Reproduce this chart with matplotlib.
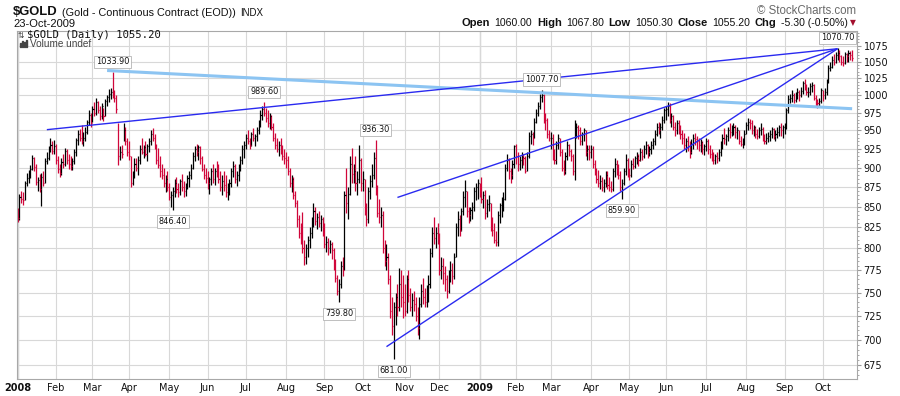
import numpy as np
import pandas as pd
import matplotlib
matplotlib.use('Agg')
import matplotlib.pyplot as plt
from matplotlib.patches import Rectangle
from matplotlib.ticker import NullFormatter

# exchange holidays (no bars on these days)
holidays = ['2008-01-01', '2008-01-21', '2008-02-18', '2008-03-21', '2008-05-26',
            '2008-07-04', '2008-09-01', '2008-11-27', '2008-12-25',
            '2009-01-01', '2009-01-19', '2009-02-16', '2009-04-10', '2009-05-25',
            '2009-07-03', '2009-09-07']

prev_close = 838.0  # last close of 2007, only used for the colour of the first bar

high_2008 = [
    848, 866, 870, 868, 882, 893, 897, 903, 916, 914, 905, 888, 891, 893, 895, 913, 920, 929, 939, 935, 937,
    932, 915, 905, 912, 918, 926, 925, 918, 915, 912, 925, 940, 950, 952, 957, 948, 955, 965, 978, 975,
    985, 990, 996, 992, 985, 988, 982, 995, 1000, 1009, 1010, 1033.9, 1008, 1000, 960, 929, 930, 960, 955, 940,
    935, 915, 895, 913, 912, 915, 930, 939, 930, 935, 932, 940, 950, 953, 945, 932, 926, 915, 905, 900, 890, 895,
    880, 870, 875, 885, 888, 880, 885, 891, 882, 880, 890, 895, 905, 920, 928, 932, 930, 928, 915, 905, 900,
    895, 888, 900, 905, 900, 909, 905, 895, 890, 896, 890, 880, 885, 900, 909, 905, 895, 905, 915, 930, 935,
    945, 950, 940, 948, 953, 945, 955, 965, 978, 985, 989.6, 982, 978, 975, 972, 960, 946, 940, 935, 940, 930, 925,
    920, 915, 900, 890, 888, 870, 858, 840, 830, 844, 810, 805, 815, 825, 838, 855, 850, 842, 845, 840, 838,
    830, 815, 812, 810, 808, 800, 788, 770, 765, 785, 790, 870, 900, 875, 915, 926, 905, 915, 895, 930, 912,
    895, 885, 855, 875, 890, 905, 920, 936.3, 877, 860, 850, 845, 810, 805, 795, 770, 745, 740, 750, 760, 777, 775, 770,
    760, 770, 775, 755, 750, 752, 745, 735, 745, 760, 766, 755, 758, 770, 800, 825, 838, 825, 830,
    818, 790, 789, 780, 770, 775, 785, 783, 795, 830, 845, 840, 848, 870, 884, 870, 850, 850, 856, 875, 880, 885,
]
low_2008 = [
    831, 834, 855, 852, 858, 876, 880, 886, 897, 896, 878, 870, 868, 851, 876, 880, 905, 910, 920, 918, 918,
    905, 893, 888, 890, 900, 902, 905, 898, 897, 897, 905, 915, 930, 935, 932, 929, 935, 945, 958, 955,
    962, 970, 972, 975, 965, 966, 963, 970, 985, 990, 995, 996, 990, 975, 903, 910, 912, 936, 930, 915,
    910, 875, 878, 886, 895, 890, 905, 918, 913, 915, 909, 920, 930, 935, 925, 905, 900, 888, 885, 875, 868, 870,
    858, 850, 846.4, 862, 867, 862, 865, 870, 862, 864, 872, 875, 885, 898, 908, 915, 910, 905, 895, 885, 880,
    872, 866, 878, 880, 878, 888, 880, 870, 865, 870, 862, 859, 865, 875, 888, 880, 876, 882, 895, 905, 912,
    925, 932, 925, 928, 935, 928, 935, 945, 955, 965, 970, 962, 955, 952, 950, 935, 925, 920, 915, 918, 910, 905,
    900, 890, 875, 868, 860, 850, 825, 812, 805, 795, 781, 782, 790, 800, 812, 825, 828, 823, 825, 820, 815,
    800, 796, 792, 795, 788, 775, 762, 748, 739.8, 755, 768, 775, 842, 835, 865, 880, 880, 870, 865, 880, 870,
    870, 840, 826, 830, 860, 875, 885, 865, 838, 830, 825, 795, 780, 775, 760, 723, 705, 681, 716, 725, 730, 735, 723,
    725, 728, 740, 730, 725, 730, 720, 705, 701, 735, 738, 735, 734, 740, 755, 790, 805, 800, 805,
    770, 765, 760, 752, 744, 750, 762, 760, 765, 790, 815, 815, 820, 840, 850, 838, 830, 832, 835, 845, 858, 860,
]
close_2008 = [
    836, 862, 860, 858, 880, 887, 893, 898, 912, 901, 881, 884, 872, 888, 880, 908, 912, 925, 930, 922, 928,
    910, 898, 893, 907, 904, 922, 910, 905, 902, 908, 920, 937, 945, 940, 935, 940, 948, 962, 972, 960,
    980, 975, 990, 978, 970, 985, 970, 992, 997, 1002, 1005, 1002, 996, 980, 915, 920, 918, 950, 935, 920,
    915, 880, 890, 905, 900, 910, 925, 920, 927, 918, 928, 935, 945, 940, 928, 910, 903, 895, 890, 880, 885, 875,
    862, 865, 870, 880, 872, 868, 882, 875, 870, 878, 886, 890, 900, 915, 925, 920, 927, 912, 898, 890, 887,
    880, 885, 895, 885, 895, 892, 885, 875, 882, 878, 868, 870, 880, 895, 902, 885, 890, 900, 910, 925, 930,
    940, 935, 930, 945, 940, 942, 950, 960, 972, 980, 975, 968, 960, 970, 955, 940, 930, 925, 930, 922, 915, 912,
    910, 895, 880, 885, 865, 855, 835, 818, 812, 800, 790, 800, 810, 818, 832, 845, 832, 838, 830, 835, 825,
    805, 808, 800, 805, 798, 782, 766, 752, 760, 780, 775, 865, 855, 866, 905, 892, 895, 880, 885, 910, 880,
    885, 845, 835, 870, 882, 890, 912, 870, 842, 838, 840, 800, 785, 790, 765, 730, 715, 735, 745, 735, 760, 745, 740,
    730, 765, 748, 735, 742, 738, 725, 712, 738, 752, 745, 740, 748, 760, 795, 818, 812, 818, 815,
    775, 780, 772, 765, 752, 770, 775, 768, 790, 825, 835, 822, 845, 862, 870, 845, 840, 846, 850, 870, 875, 880,
]

high_2009 = [
    880, 888, 870, 871, 860, 865, 855, 838, 830, 820, 845, 855, 862, 868, 905, 918, 912, 900, 910, 930,
    932, 920, 915, 920, 918, 915, 920, 948, 950, 948, 968, 980, 990, 1002, 1007.7, 1002, 975, 968, 950,
    948, 945, 925, 935, 945, 940, 925, 910, 920, 935, 932, 925, 918, 964, 960, 958, 955, 948, 953, 950, 930, 930,
    930, 928, 910, 900, 897, 890, 888, 885, 896, 895, 888, 882, 900, 913, 910, 905, 895, 885, 900, 918, 912,
    900, 910, 912, 915, 920, 918, 926, 925, 930, 936, 932, 928, 935, 940, 950, 960, 962, 960, 970, 982,
    985, 990, 988, 975, 972, 962, 965, 964, 958, 950, 946, 940, 942, 935, 938, 945, 947, 942, 939, 938, 936, 932,
    940, 938, 930, 925, 920, 918, 920, 925, 935, 945, 953, 945, 955, 960, 958, 960, 958, 955, 950, 942, 940, 950,
    962, 967, 966, 964, 958, 956, 952, 955, 960, 955, 945, 946, 948, 950, 955, 954, 950, 955, 958, 960, 958,
    960, 982, 1000, 1002, 1007, 1003, 1005, 1010, 1008, 1012, 1021, 1024, 1016, 1012, 1018, 1020, 1016, 1000, 995, 996, 1010,
    1008, 1010, 1024, 1045, 1050, 1058, 1062, 1065, 1070.7, 1068, 1060, 1058, 1065, 1064, 1068, 1067, 1067.8,
]
low_2009 = [
    862, 855, 848, 835, 838, 845, 820, 815, 806, 803, 803, 830, 838, 845, 858, 895, 885, 880, 885, 900,
    905, 895, 897, 900, 903, 893, 895, 912, 932, 930, 940, 960, 970, 980, 990, 960, 950, 940, 935,
    925, 910, 905, 905, 925, 915, 895, 890, 892, 910, 915, 908, 890, 884, 940, 938, 930, 930, 935, 915, 910, 910,
    912, 900, 890, 880, 875, 872, 870, 869, 875, 872, 870, 868, 870, 888, 890, 885, 870, 859.9, 878, 890, 888,
    884, 888, 898, 900, 905, 902, 908, 910, 912, 918, 913, 915, 918, 925, 930, 942, 945, 940, 950, 960,
    965, 970, 960, 955, 950, 942, 945, 945, 938, 932, 925, 920, 922, 913, 918, 925, 930, 925, 922, 920, 918, 916,
    922, 918, 912, 908, 905, 905, 906, 908, 915, 925, 932, 930, 936, 940, 942, 944, 940, 938, 932, 928, 926, 930,
    945, 950, 952, 945, 942, 940, 938, 940, 944, 936, 932, 932, 934, 936, 940, 938, 935, 940, 942, 942, 940,
    945, 952, 975, 988, 990, 988, 990, 995, 992, 997, 1002, 1008, 1000, 998, 1000, 1005, 993, 985, 982, 985, 988,
    992, 995, 1000, 1018, 1036, 1040, 1045, 1048, 1052, 1050, 1045, 1044, 1046, 1050, 1050, 1052, 1050.3,
]
close_2009 = [
    878, 860, 865, 842, 853, 855, 825, 822, 810, 808, 840, 852, 856, 860, 900, 910, 895, 890, 905, 928,
    915, 905, 910, 914, 912, 896, 915, 942, 945, 940, 962, 975, 985, 998, 1000, 968, 965, 945, 940,
    940, 915, 910, 930, 940, 920, 900, 895, 915, 930, 922, 915, 895, 945, 955, 950, 935, 945, 950, 920, 925, 920,
    925, 905, 895, 885, 880, 882, 875, 880, 890, 878, 875, 872, 895, 905, 898, 890, 875, 880, 895, 910, 892,
    890, 905, 902, 912, 915, 910, 920, 915, 925, 930, 920, 925, 930, 935, 945, 955, 950, 955, 965, 978,
    980, 985, 965, 970, 955, 950, 960, 952, 945, 940, 930, 935, 928, 920, 932, 940, 938, 935, 930, 934, 925, 928,
    935, 925, 918, 912, 910, 915, 912, 920, 930, 940, 938, 942, 950, 948, 952, 955, 948, 950, 935, 932, 936, 945,
    958, 962, 960, 950, 955, 945, 942, 950, 952, 940, 936, 940, 942, 945, 952, 942, 945, 948, 955, 950, 955,
    955, 978, 995, 996, 1000, 993, 1000, 1005, 1000, 1006, 1018, 1014, 1004, 1004, 1014, 1015, 996, 990, 988, 992, 1007,
    1000, 1004, 1020, 1040, 1042, 1052, 1050, 1060, 1064, 1058, 1050, 1048, 1062, 1058, 1064, 1060.5, 1055.2,
]

# hand-drawn trend lines: (start date, start price, end date, end price)
trend_lines = [
    ('2008-03-13', 1036.6, '2009-10-23', 980.5),
    ('2008-01-25', 951.0, '2009-10-13', 1070.0),
    ('2008-10-28', 861.6, '2009-10-13', 1070.0),
    ('2008-10-20', 693.3, '2009-10-13', 1070.0),
]
trend_colors = ['#8cc4f2', '#2a2af0', '#2a2af0', '#2a2af0']
trend_widths = [2.2, 1.0, 1.0, 1.0]

peak_labels = [1033.9, 989.6, 936.3, 1007.7, 1070.7]
trough_labels = [846.4, 739.8, 681.0, 859.9]

y_ticks = list(range(675, 1076, 25))

dates = pd.bdate_range('2008-01-02', '2009-10-23', freq='C', holidays=holidays)
highs = np.array(high_2008 + high_2009, dtype=float)
lows = np.array(low_2008 + low_2009, dtype=float)
closes = np.array(close_2008 + close_2009, dtype=float)
n = min(len(dates), len(closes))
dates, highs, lows, closes = dates[:n], highs[:n], lows[:n], closes[:n]
x = np.arange(n)

prev = np.r_[prev_close, closes[:-1]]
colors = np.where(closes < prev, '#d0063a', '#000000')

W, H = 900, 396
fig = plt.figure(figsize=(W / 100, H / 100), dpi=100)
fig.patch.set_facecolor('white')
ax = fig.add_axes([16.7 / W, 17 / H, 840 / W, 348 / H])
ax.set_yscale('log')
ax.set_ylim(661.4, 1098)
ax.set_xlim(-0.5, 459.5)

# month grid / labels
starts = np.flatnonzero(np.r_[True, dates.month[1:] != dates.month[:-1]])
labels = [str(dates[i].year) if dates[i].month == 1 else dates[i].strftime('%b') for i in starts]
ax.set_xticks(starts, labels)
for lab, i in zip(ax.get_xticklabels(), starts):
    if dates[i].month == 1:
        lab.set_fontweight('bold')
ax.set_yticks(y_ticks, [str(v) for v in y_ticks])
ax.set_yticks(np.arange(665, 1096, 5), minor=True)
ax.yaxis.set_minor_formatter(NullFormatter())
ax.yaxis.tick_right()
ax.grid(True, which='major', color='#d8d8d8', lw=0.8)
ax.tick_params(axis='x', length=0, pad=3, labelsize=7, colors='#111111')
ax.tick_params(axis='y', which='major', length=3, pad=2, labelsize=7, color='#999999',
               labelcolor='#111111')
ax.tick_params(axis='y', which='minor', length=1.5, color='#999999')
for i in starts:
    if dates[i].month == 1:
        ax.axvline(i, color='#b8b8b8', lw=0.9, zorder=0.5)
for s in ax.spines.values():
    s.set_color('#a8a8a8')
    s.set_linewidth(0.8)
ax.set_axisbelow(True)

# HLC bars
ax.vlines(x, lows, highs, colors=colors, lw=0.9, zorder=2)
ax.hlines(closes, x, x + 0.6, colors=colors, lw=0.9, zorder=2)

# trend lines
pos = {d.strftime('%Y-%m-%d'): i for i, d in enumerate(dates)}
for (d0, p0, d1, p1), c, lw in zip(trend_lines, trend_colors, trend_widths):
    ax.plot([pos[d0], pos[d1]], [p0, p1], color=c, lw=lw, zorder=3, solid_capstyle='butt')

box = dict(boxstyle='square,pad=0.2', fc='white', ec='#b4b4b4', lw=0.6)
for v in peak_labels:
    i = np.flatnonzero(np.isclose(highs, v))[0]
    ax.annotate(f'{v:.2f}', (i, v), xytext=(0, 7.5), textcoords='offset points',
                ha='center', va='center', fontsize=5.9, color='#111111', bbox=box, zorder=5)
for v in trough_labels:
    i = np.flatnonzero(np.isclose(lows, v))[0]
    ax.annotate(f'{v:.2f}', (i, v), xytext=(0, -8.5), textcoords='offset points',
                ha='center', va='center', fontsize=5.9, color='#111111', bbox=box, zorder=5)

# text inside the plot
ax.text(10 / 840, 1 - 4.5 / 348, '$GOLD (Daily) 1055.20', transform=ax.transAxes,
        family='DejaVu Sans Mono', fontsize=7.6, va='center', ha='left', color='#111111')
ax.text(1.0 / 840, 1 - 4.5 / 348, '⇅', transform=ax.transAxes, fontsize=5.5, va='center',
        ha='left', color='#333333')
ax.text(13.3 / 840, 1 - 13.3 / 348, 'Volume undef', transform=ax.transAxes,
        family='Liberation Sans', fontsize=7.2, va='center', ha='left', color='#444444')
for k, h in enumerate([4, 6, 5, 7]):
    fig.add_artist(Rectangle(((20 + 2 * k) / W, 1 - 47 / H), 1.3 / W, h / H,
                             transform=fig.transFigure, color='#444444'))

# header
fig.text(12.5 / W, 1 - 12 / H, '$GOLD', family='Liberation Sans', fontweight='bold',
         fontsize=9.4, va='center', ha='left', color='#111111')
fig.text(62.5 / W, 1 - 12.5 / H, '(Gold - Continuous Contract (EOD))', family='Liberation Sans',
         fontsize=7.8, va='center', ha='left', color='#111111')
fig.text(240 / W, 1 - 12.5 / H, 'INDX', family='Liberation Sans', fontsize=7, va='center',
         ha='left', color='#111111')
fig.text(13.3 / W, 1 - 24.3 / H, '23-Oct-2009', family='Liberation Sans', fontsize=8,
         va='center', ha='left', color='#111111')
fig.text(856 / W, 1 - 11 / H, '© StockCharts.com', family='Liberation Sans', fontsize=8.3,
         va='center', ha='right', color='#6a6a6a')

renderer = fig.canvas.get_renderer()


def put_right(xr, s, **kw):
    t = fig.text(xr / W, 1 - 23 / H, s, ha='right', va='center', **kw)
    return xr - t.get_window_extent(renderer).width


ohlc_line = [('Open', 'bold'), ('1060.00', 'normal'), ('High', 'bold'), ('1067.80', 'normal'),
             ('Low', 'bold'), ('1050.30', 'normal'), ('Close', 'bold'), ('1055.20', 'normal'),
             ('Chg', 'bold'), ('-5.30 (-0.50%)', 'normal')]
xr = put_right(856, '▼', fontsize=5.5, color='#a3102e') - 2.5
for s, wgt in reversed(ohlc_line):
    xr = put_right(xr, s, family='Liberation Sans', fontweight=wgt,
                   fontsize=8 if wgt == 'bold' else 7.6, color='#111111') - 4.5

fig.savefig('out.png', dpi=100, facecolor='white')
